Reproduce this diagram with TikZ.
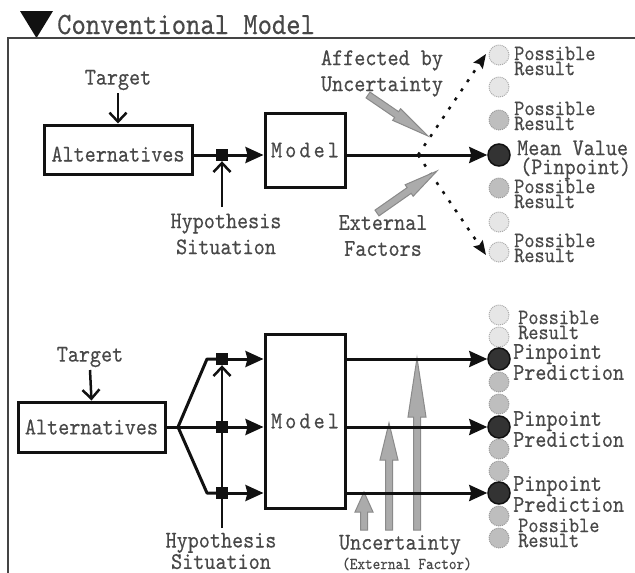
\documentclass[tikz,border=0pt]{standalone}
\usepackage{fontspec}
\usetikzlibrary{arrows.meta,calc}
\newfontfamily\tfont[FakeStretch=0.88,FakeBold=0.35]{lmmono10-regular.otf}
\newfontfamily\mfont[FakeStretch=0.88,FakeBold=0.35,LetterSpace=13]{lmmono10-regular.otf}
\definecolor{ink}{HTML}{111111}
\definecolor{txt}{HTML}{484848}
\definecolor{frameclr}{HTML}{444444}
\definecolor{gfill}{HTML}{ABABAB}
\definecolor{gedge}{HTML}{8A8A8A}
\definecolor{lightfill}{HTML}{E6E6E6}
\definecolor{lightedge}{HTML}{AAAAAA}
\definecolor{midfill}{HTML}{BEBEBE}
\definecolor{midedge}{HTML}{999999}
\definecolor{darkfill}{HTML}{333333}

% fat grey arrow: tail, tip, head length, head half width
\newcommand\grayarrow[4]{%
  \coordinate (gab) at ($(#2)!#3!(#1)$);
  \filldraw[garrow]
    ($(#1)!3.5pt!90:(#2)$) -- ($(gab)!3.5pt!90:(#2)$) -- ($(gab)!#4!90:(#2)$)
    -- (#2) -- ($(gab)!#4!-90:(#2)$) -- ($(gab)!3.5pt!-90:(#2)$)
    -- ($(#1)!3.5pt!-90:(#2)$) -- cycle;
}

\begin{document}
\begin{tikzpicture}[x=1pt,y=-1pt,
  lbl/.style={font=\tfont\fontsize{24}{26}\selectfont, text=txt, inner sep=0pt, align=center},
  small/.style={font=\tfont\fontsize{22}{15}\selectfont, text=txt, inner sep=0pt, align=left, anchor=west},
  pin/.style={font=\tfont\fontsize{24}{19}\selectfont, text=txt, inner sep=0pt, align=left, anchor=west},
  box/.style={draw=ink, line width=3pt, inner sep=0pt, font=\tfont\fontsize{24}{26}\selectfont, text=txt},
  modelbox/.style={draw=ink, line width=3pt, inner sep=0pt, font=\mfont\fontsize{24}{26}\selectfont, text=txt, minimum width=80pt},
  jn/.style={fill=ink, minimum size=12pt, inner sep=0pt},
  fwd/.style={draw=ink, line width=3pt, -{Stealth[length=18pt,width=16pt,inset=2pt]}},
  barb/.style={draw=ink, line width=2.5pt, -{Straight Barb[length=9pt,width=17pt,line width=2.5pt]}},
  plain/.style={draw=ink, line width=3pt},
  dotarr/.style={draw=ink, line width=2.5pt, dash pattern=on 3pt off 8pt, -{Stealth[length=14pt,width=11pt,inset=2pt]}},
  garrow/.style={fill=gfill, draw=gedge, line width=1pt},
  lightc/.style={circle, minimum size=20pt, inner sep=0pt, fill=lightfill, draw=lightedge, densely dotted, line width=1pt},
  midc/.style={circle, minimum size=20pt, inner sep=0pt, fill=midfill, draw=midedge, densely dotted, line width=1pt},
  darkc/.style={circle, minimum size=22pt, inner sep=0pt, fill=darkfill, draw=ink, line width=1.5pt},
]
\useasboundingbox[fill=white] (0,0) rectangle (635,573);

% heading and frame
\fill[ink] (20,11) -- (53,11) -- (36.5,38) -- cycle;
\node[font=\tfont\fontsize{31}{31}\selectfont, text=txt, inner sep=0pt, anchor=base west] (title) at (57,34) {Conventional Model};
\draw[frameclr, line width=2.5pt] (8,573) -- (8,38) -- (635,38);

% ---------- upper diagram ----------
\node[lbl] (tgtA) at (118,80) {Target};
\node[box, minimum width=148pt, minimum height=49pt, text height=24pt, text depth=0pt] (altA) at (118,149.5) {Alternatives};
\node[jn] (sqA) at (222,155) {};
\node[modelbox, minimum height=74pt] (modelA) at (305,150) {Model};
\node[lbl] (hypA) at (226,234) {Hypothesis\\Situation};
\coordinate (hypAtop) at (222,207);

\draw[barb] (tgtA.south |- 0,93) -- (altA.north);
\draw[plain] (altA.east |- sqA) -- (sqA);
\draw[fwd] (sqA) -- (modelA.west |- sqA);
\draw[barb] (hypAtop) -- (sqA.south);

% outcomes
\node[lightc] (rA1) at (499,55) {};
\node[lightc] (rA2) at (499,87) {};
\node[midc]   (rA3) at (499,120) {};
\node[darkc]  (mean) at (499,155) {};
\node[midc]   (rA5) at (499,188) {};
\node[lightc] (rA6) at (499,222) {};
\node[lightc] (rA7) at (499,252) {};

\draw[fwd] (modelA.east |- mean) -- (mean.west);
\coordinate (fork) at (418,155);
\coordinate (upEnd) at (486,54);
\coordinate (downEnd) at (486,255);
\draw[dotarr] (fork) -- (upEnd);
\draw[dotarr] (fork) -- (downEnd);

\coordinate (gu1) at (368,95);  \coordinate (gu2) at (428,136);
\coordinate (gd1) at (377,213); \coordinate (gd2) at (437,171);
\grayarrow{gu1}{gu2}{38pt}{7pt}
\grayarrow{gd1}{gd2}{34pt}{7pt}

\node[lbl, anchor=north] (unc) at (382,50) {Affected by\\Uncertainty};
\node[lbl, anchor=north] (ext) at (383,215) {External\\Factors};

\node[small] (lA1) at (514,61) {Possible\\Result};
\node[small] (lA3) at (514,116) {Possible\\Result};
\node[pin]   (lA4) at (517,160) {Mean Value\\\hspace*{3pt}(Pinpoint)};
\node[small] (lA5) at (514,194) {Possible\\Result};
\node[small] (lA7) at (514,248) {Possible\\Result};

% ---------- lower diagram ----------
\coordinate (gb1) at (364,530); \coordinate (gb1t) at (364,492);
\coordinate (gb2) at (389,530); \coordinate (gb2t) at (389,423);
\coordinate (gb3) at (417,530); \coordinate (gb3t) at (417,358);
\grayarrow{gb1}{gb1t}{20pt}{9pt}
\grayarrow{gb2}{gb2t}{37pt}{9pt}
\grayarrow{gb3}{gb3t}{59pt}{9pt}

\node[lbl] (tgtB) at (90,357) {Target};
\node[box, minimum width=147pt, minimum height=50pt] (altB) at (91.5,427) {Alternatives};
\coordinate (split) at (178,427);
\coordinate (bendU) at (207,359);
\coordinate (bendD) at (207,493);
\node[jn] (sqB1) at (222,359) {};
\node[jn] (sqB2) at (222,427) {};
\node[jn] (sqB3) at (222,493) {};
\node[modelbox, minimum height=174pt] (modelB) at (305,421) {Model};
\coordinate (hypBbot) at (222,528);
\node[lbl, font=\tfont\fontsize{24}{19}\selectfont] (hypB) at (221,551) {Hypothesis\\Situation};

\draw[barb] (tgtB.south |- 0,370) -- (altB.north);
\draw[plain] (altB.east) -- (split) -- (sqB2);
\draw[plain, line join=round] (split) -- (bendU) -- (sqB1);
\draw[plain, line join=round] (split) -- (bendD) -- (sqB3);
\draw[barb] (hypBbot) -- (sqB1.south);
\foreach \s in {sqB1,sqB2,sqB3} \node[jn] at (\s) {};
\draw[fwd] (sqB1) -- (modelB.west |- sqB1);
\draw[fwd] (sqB2) -- (modelB.west |- sqB2);
\draw[fwd] (sqB3) -- (modelB.west |- sqB3);

\node[lightc] (rB1) at (499,315) {};
\node[lightc] (rB2) at (499,337) {};
\node[midc]   (rB4) at (499,382) {};
\node[midc]   (rB5) at (499,404) {};
\node[midc]   (rB7) at (499,449) {};
\node[midc]   (rB8) at (499,471) {};
\node[midc]   (rB10) at (499,516) {};
\node[midc]   (rB11) at (499,538) {};
\node[darkc]  (pp1) at (499,359) {};
\node[darkc]  (pp2) at (499,427) {};
\node[darkc]  (pp3) at (499,493) {};

\draw[fwd] (modelB.east |- pp1) -- (pp1.west);
\draw[fwd] (modelB.east |- pp2) -- (pp2.west);
\draw[fwd] (modelB.east |- pp3) -- (pp3.west);

\node[small] (lB1) at (518,325) {Possible\\Result};
\node[pin]   (lB2) at (513,362) {Pinpoint\\Prediction};
\node[pin]   (lB3) at (513,429) {Pinpoint\\Prediction};
\node[pin]   (lB4) at (513,494) {Pinpoint\\Prediction};
\node[small] (lB5) at (518,533) {Possible\\Result};

\node[lbl] (uncB) at (400,545) {Uncertainty};
\node[lbl, font=\tfont\fontsize{16.5}{16}\selectfont] (extB) at (407,564) {(External Factor)};
\end{tikzpicture}
\end{document}
